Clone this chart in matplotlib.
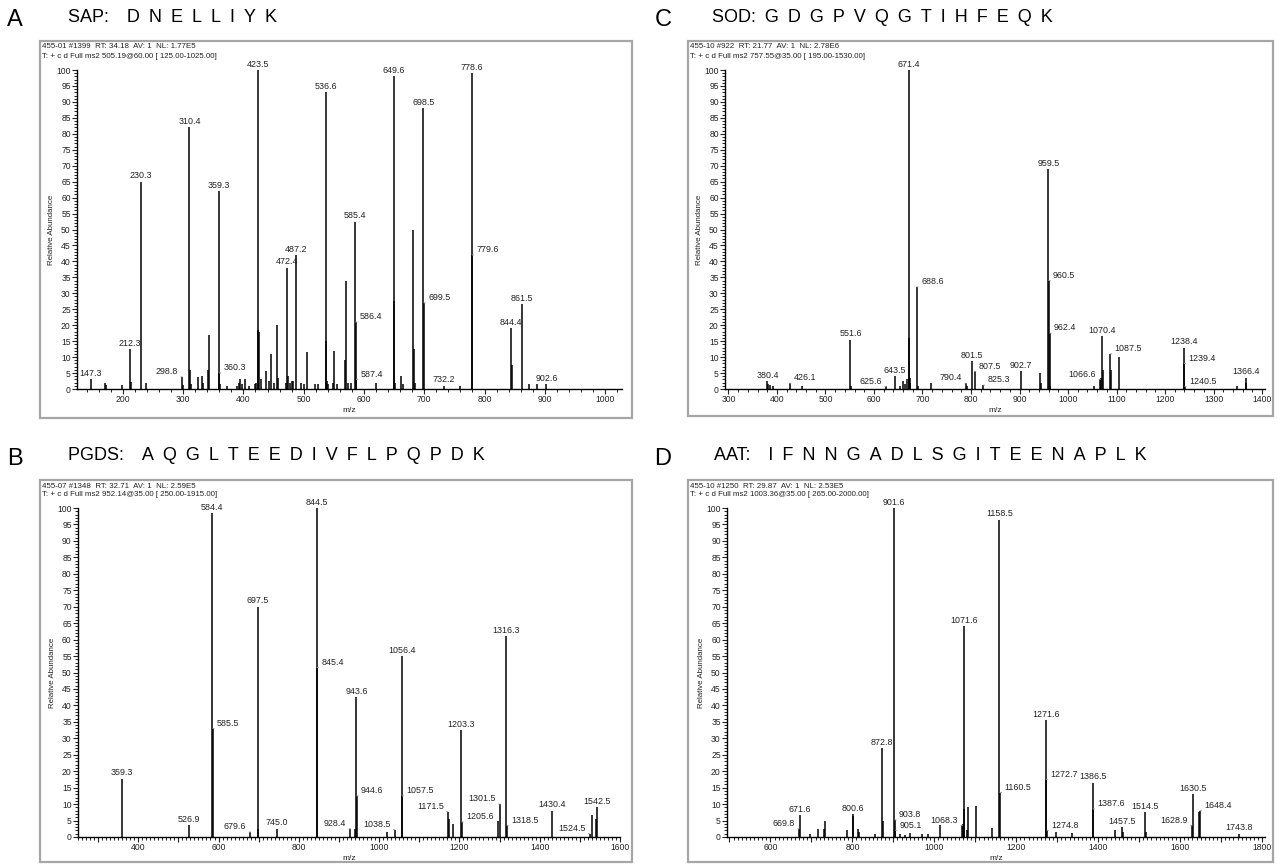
import matplotlib
matplotlib.use("Agg")
import matplotlib.pyplot as plt
from matplotlib.patches import Rectangle
from matplotlib.ticker import MultipleLocator, FuncFormatter

plt.rcParams['font.family'] = ['Liberation Sans', 'DejaVu Sans']

W, H = 1277, 867
SP = '\u2002'   # en space between residues, like the wide-spaced titles

# ---------------- panel A : SAP ----------------
a_mz = [147.3, 170.0, 172.0, 198.0, 212.3, 214.0, 230.3, 239.0, 298.8, 300.5,
        310.4, 312.0, 313.5, 324.0, 331.0, 333.0, 341.0, 342.3, 359.3, 360.3,
        361.5, 372.0, 390.0, 392.0, 395.0, 397.0, 403.0, 410.0, 419.0, 421.0,
        423.5, 424.5, 425.5, 430.0, 437.0, 442.0, 446.0, 450.0, 455.0, 457.0,
        470.0, 472.4, 474.0, 477.0, 480.0, 483.0, 487.2, 495.0, 500.0, 506.0,
        518.0, 524.0, 536.6, 537.6, 539.0, 541.0, 549.0, 551.0, 556.0, 568.0,
        570.0, 574.0, 578.0, 585.4, 586.4, 587.4, 620.0, 649.6, 650.6, 652.0,
        662.0, 664.0, 681.4, 682.4, 684.0, 698.5, 699.5, 732.2, 760.0, 778.6,
        779.6, 844.4, 845.4, 861.5, 874.0, 887.0, 902.6]
a_int = [3, 2, 1.3, 1.2, 12.5, 2.3, 65, 2, 3.8, 1.3,
         82, 6, 1.5, 3.8, 4, 2, 6, 17, 62, 5,
         1.5, 1, 1, 2, 3, 1.5, 3, 1, 1.5, 2,
         100, 18.5, 18, 3, 5.5, 2.5, 11, 2, 20, 3.5,
         2, 38, 4, 2, 2.5, 2.5, 42, 2, 1.5, 11.5,
         1.5, 1.5, 93, 15, 2.5, 1.5, 2, 12, 1.5, 9,
         34, 2, 2, 52.5, 21, 3, 2, 98, 27.5, 2,
         4, 1.5, 50, 12.5, 2, 88, 27, 1, 1, 99,
         42, 19, 7.5, 26.5, 1.5, 1.5, 1.5]
a_labels = ["147.3", "212.3", "230.3", "298.8", "310.4", "359.3", "360.3", "423.5",
            "472.4", "487.2", "536.6", "585.4", "586.4", "587.4", "649.6", "698.5",
            "699.5", "732.2", "778.6", "779.6", "844.4", "861.5", "902.6"]
a_side = {"298.8": "l", "360.3": "r", "586.4": "r", "587.4": "r", "699.5": "r", "779.6": "r"}

# ---------------- panel C : SOD ----------------
c_mz = [380.4, 382.5, 386.0, 391.0, 426.1, 451.0, 551.6, 553.5, 625.6, 643.5,
        653.0, 660.0, 664.0, 669.0, 671.4, 672.4, 673.5, 675.0, 688.6, 690.5,
        717.0, 790.4, 792.0, 801.5, 807.5, 825.3, 902.7, 943.0, 945.0, 959.5,
        960.5, 962.4, 963.5, 1053.0, 1066.6, 1068.0, 1070.4, 1071.4, 1087.5, 1088.5,
        1105.0, 1238.4, 1239.4, 1240.5, 1348.0, 1366.4, 1367.5]
c_int = [2.5, 1.5, 1.2, 0.8, 1.8, 0.8, 15.5, 0.8, 0.8, 4,
         0.8, 2.5, 1.5, 3, 100, 16, 3.5, 2, 32, 1,
         1.8, 1.8, 1, 8.8, 5.5, 1.2, 5.5, 5, 2, 69,
         34, 17.5, 1, 0.8, 3, 3.5, 16.5, 6, 11, 6,
         10, 13, 8, 0.8, 1, 3.5, 2]
c_labels = ["380.4", "426.1", "551.6", "625.6", "643.5", "671.4", "688.6", "790.4",
            "801.5", "807.5", "825.3", "902.7", "959.5", "960.5", "962.4", "1066.6",
            "1070.4", "1087.5", "1238.4", "1239.4", "1240.5", "1366.4"]
c_side = {"426.1": "r", "625.6": "l", "688.6": "r", "790.4": "l", "807.5": "r",
          "825.3": "r", "960.5": "r", "962.4": "r", "1066.6": "l", "1087.5": "r",
          "1239.4": "r", "1240.5": "r"}

# ---------------- panel B : PGDS ----------------
b_mz = [359.3, 526.9, 584.4, 585.5, 679.6, 697.5, 699.0, 745.0, 844.5, 845.4,
        928.4, 941.0, 943.6, 944.6, 1019.0, 1038.5, 1056.4, 1057.5, 1171.5, 1173.0,
        1184.0, 1203.3, 1205.6, 1296.0, 1301.5, 1316.3, 1318.5, 1430.4, 1524.5, 1530.0,
        1540.5, 1542.5]
b_int = [17.7, 3.5, 98.5, 33, 1.5, 70, 2.3, 2.5, 100, 51.5,
         2.5, 2.5, 42.5, 12.5, 1.5, 2.2, 55, 12.5, 7.7, 5.4,
         4, 32.4, 4.6, 4.8, 10, 61, 3.5, 8, 1, 6.8,
         5.5, 9]
b_labels = ["359.3", "526.9", "584.4", "585.5", "679.6", "697.5", "745.0", "844.5",
            "845.4", "928.4", "943.6", "944.6", "1038.5", "1056.4", "1057.5", "1171.5",
            "1203.3", "1205.6", "1301.5", "1316.3", "1318.5", "1430.4", "1524.5", "1542.5"]
b_side = {"585.5": "r", "679.6": "l", "845.4": "r", "928.4": "l", "944.6": "r",
          "1038.5": "l", "1057.5": "r", "1171.5": "l", "1205.6": "r", "1301.5": "l",
          "1318.5": "r", "1524.5": "l"}

# ---------------- panel D : AAT ----------------
d_mz = [669.8, 671.6, 697.0, 717.0, 731.0, 734.0, 786.0, 800.6, 802.0, 813.0,
        815.0, 856.0, 872.8, 874.0, 901.6, 903.8, 905.1, 915.0, 928.0, 940.0,
        970.0, 985.0, 1014.0, 1068.3, 1070.0, 1071.6, 1072.6, 1080.0, 1083.0, 1101.0,
        1140.0, 1158.5, 1160.5, 1271.6, 1272.7, 1274.8, 1297.0, 1336.0, 1386.5, 1387.6,
        1442.0, 1457.5, 1460.0, 1514.5, 1516.0, 1628.9, 1630.5, 1646.0, 1648.4, 1743.8]
d_int = [2.5, 6.7, 1, 2.5, 2.5, 4.8, 2, 7, 6.5, 2.5,
         1.5, 1, 27, 5, 100, 5.2, 2, 1, 0.7, 1.3,
         1, 0.8, 3.5, 3.5, 4, 64, 8.5, 2, 9, 9.5,
         2.8, 96.5, 13.5, 35.5, 17.5, 2, 1.5, 1.3, 16.5, 8.5,
         2, 3, 1.5, 7.5, 1.5, 3.5, 13, 7.5, 8, 1]
d_labels = ["669.8", "671.6", "800.6", "872.8", "901.6", "903.8", "905.1", "1068.3",
            "1071.6", "1158.5", "1160.5", "1271.6", "1272.7", "1274.8", "1386.5", "1387.6",
            "1457.5", "1514.5", "1628.9", "1630.5", "1648.4", "1743.8"]
d_side = {"669.8": "l", "903.8": "r", "905.1": "r", "1068.3": "l", "1160.5": "r",
          "1272.7": "r", "1274.8": "r", "1387.6": "r", "1628.9": "l", "1648.4": "r"}

fig = plt.figure(figsize=(W / 100, H / 100), dpi=100)
fig.patch.set_facecolor('white')


def fx(x):
    return x / W


def fy(y):
    return 1 - y / H


def draw_panel(letter, name, seq, head, mz, inten, labels, side, xlim, xmaj, xlab, xmin,
               title_x, frame, axbox):
    fl, ft, fr, fb = frame
    fig.patches.append(Rectangle((fx(fl), fy(fb)), (fr - fl) / W, (fb - ft) / H,
                                 transform=fig.transFigure, fill=False,
                                 ec='#a6a6a6', lw=1.6))
    fig.text(fx(title_x[0]), fy(ft - 21), letter, fontsize=17, ha='center', va='center')
    title = name + SP + SP.join(seq)
    fig.text(fx(title_x[1]), fy(ft - 24), title, fontsize=13, ha='left', va='center')
    fig.text(fx(fl + 2), fy(ft + 6), head[0], fontsize=5.7, ha='left', va='center',
             color='#222222')
    fig.text(fx(fl + 2), fy(ft + 15), head[1], fontsize=5.7, ha='left', va='center',
             color='#222222')

    l, t, r, b = axbox
    ax = fig.add_axes([fx(l), fy(b), (r - l) / W, (b - t) / H])
    ax.vlines(mz, 0, inten, color='black', lw=1.1)
    ax.set_xlim(*xlim)
    ax.set_ylim(0, 100)
    for s in ['top', 'right']:
        ax.spines[s].set_visible(False)
    for s in ['left', 'bottom']:
        ax.spines[s].set_linewidth(1.0)
    ax.patch.set_alpha(0)

    ax.yaxis.set_major_locator(MultipleLocator(5))
    ax.yaxis.set_minor_locator(MultipleLocator(1))
    ax.xaxis.set_major_locator(MultipleLocator(xmaj))
    ax.xaxis.set_minor_locator(MultipleLocator(xmin))
    ax.xaxis.set_major_formatter(FuncFormatter(
        lambda v, p: '%d' % v if round(v) % xlab == 0 else ''))
    ax.tick_params(axis='both', which='major', length=3.5, width=0.8, pad=1,
                   labelsize=6.2, colors='#222222')
    ax.tick_params(axis='both', which='minor', length=2, width=0.6)
    ax.set_xlabel('m/z', fontsize=6, labelpad=2, color='#222222')
    ax.set_ylabel('Relative Abundance', fontsize=5.7, labelpad=1, color='#222222')

    for lab in labels:
        v = float(lab)
        i = min(range(len(mz)), key=lambda k: abs(mz[k] - v))
        h = inten[i]
        sd = side.get(lab, 'c')
        if sd == 'c':
            ax.annotate(lab, (mz[i], h), xytext=(0, 1), textcoords='offset points',
                        ha='center', va='bottom', fontsize=6.4, color='#222222',
                        annotation_clip=False)
        else:
            dx = 3 if sd == 'r' else -3
            ax.annotate(lab, (mz[i], h), xytext=(dx, 0.6), textcoords='offset points',
                        ha='left' if sd == 'r' else 'right', va='bottom',
                        fontsize=6.4, color='#222222', annotation_clip=False,
                        arrowprops=dict(arrowstyle='-', color='#9a9a9a', lw=0.7,
                                        shrinkA=0, shrinkB=0,
                                        relpos=(1, 0) if sd == 'r' else (0, 0)))
    return ax


draw_panel('A', 'SAP:' + SP, 'DNELLIYK',
           ['455-01 #1399  RT: 34.18  AV: 1  NL: 1.77E5',
            'T: + c d Full ms2 505.19@60.00 [ 125.00-1025.00]'],
           a_mz, a_int, a_labels, a_side, (124, 1028), 100, 100, 20,
           (15, 68), (40, 41, 632, 418), (77, 70, 622, 389))

draw_panel('C', 'SOD:', 'GDGPVQGTIHFEQK',
           ['455-10 #922  RT: 21.77  AV: 1  NL: 2.78E6',
            'T: + c d Full ms2 757.55@35.00 [ 195.00-1530.00]'],
           c_mz, c_int, c_labels, c_side, (293, 1406), 100, 100, 20,
           (663, 712), (688, 41, 1273, 416), (725, 70, 1265, 389))

draw_panel('B', 'PGDS:' + SP, 'AQGLTEEDIVFLPQPDK',
           ['455-07 #1348  RT: 32.71  AV: 1  NL: 2.59E5',
            'T: + c d Full ms2 952.14@35.00 [ 250.00-1915.00]'],
           b_mz, b_int, b_labels, b_side, (250, 1600), 100, 200, 10,
           (15, 68), (40, 480, 632, 862), (78, 508, 620, 837))

draw_panel('D', 'AAT:' + SP, 'IFNNGADLSGITEENAPLK',
           ['455-10 #1250  RT: 29.87  AV: 1  NL: 2.53E5',
            'T: + c d Full ms2 1003.36@35.00 [ 265.00-2000.00]'],
           d_mz, d_int, d_labels, d_side, (494, 1807), 100, 200, 10,
           (663, 714), (688, 480, 1273, 862), (727, 508, 1265, 837))

fig.savefig('out.png', dpi=100, facecolor='white')
